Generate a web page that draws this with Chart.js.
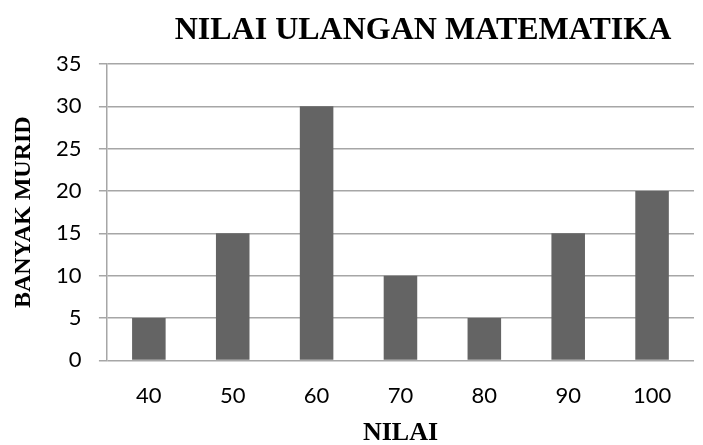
<!DOCTYPE html>
<html>
<head>
<meta charset="utf-8">
<script src="https://cdn.jsdelivr.net/npm/chart.js@4"></script>
<style>
    html, body { margin: 0; padding: 0; background: #fff; }
    #wrap { width: 703px; height: 445px; position: relative; }
</style>
</head>
<body>
<div id="wrap"><canvas id="nilaiChart"></canvas></div>
<script>
const chartTitle = 'NILAI ULANGAN MATEMATIKA';
const xTitle = 'NILAI';
const yTitle = 'BANYAK MURID';
const nilaiLabels = ['40', '50', '60', '70', '80', '90', '100'];
const banyakMurid = [5, 15, 30, 10, 5, 15, 20];
const yTicks = [0, 5, 10, 15, 20, 25, 30, 35];

const gridGray = '#a6a6a6';

// title is drawn by hand because it sits right of centre in the original
const titlePlugin = {
    id: 'manualTitle',
    afterDraw(chart) {
        const c = chart.ctx;
        c.save();
        c.font = 'bold 32px "Liberation Serif", "Times New Roman", serif';
        c.fillStyle = '#000';
        c.textAlign = 'center';
        c.textBaseline = 'alphabetic';
        c.fillText(chartTitle, 423, 39);
        c.restore();
    }
};

const ctx = document.getElementById('nilaiChart').getContext('2d');

new Chart(ctx, {
    type: 'bar',
    data: {
        labels: nilaiLabels,
        datasets: [{
            data: banyakMurid,
            backgroundColor: '#646464',
            borderWidth: 0,
            categoryPercentage: 1,
            barPercentage: 0.4
        }]
    },
    options: {
        responsive: true,
        maintainAspectRatio: false,
        animation: false,
        layout: {
            padding: { top: 64, right: 9, bottom: 0, left: 9.6 }
        },
        scales: {
            x: {
                grid: { display: false, drawTicks: false },
                border: { display: false },
                ticks: {
                    color: '#000',
                    padding: 22.8,
                    font: { family: 'Lato, "Open Sans", sans-serif', size: 22 }
                },
                title: {
                    display: true,
                    text: xTitle,
                    color: '#000',
                    padding: { top: -15, bottom: -3.6 },
                    font: { family: '"Liberation Serif", serif', size: 26, weight: 'bold' }
                }
            },
            y: {
                min: 0,
                max: 35,
                afterBuildTicks(axis) {
                    axis.ticks = yTicks.map(v => ({ value: v }));
                },
                grid: { color: gridGray, lineWidth: 1.5, tickLength: 8 },
                border: { color: gridGray, width: 1.5 },
                ticks: {
                    color: '#000',
                    padding: 17.5,
                    font: { family: 'Lato, "Open Sans", sans-serif', size: 22 }
                },
                title: {
                    display: true,
                    text: yTitle,
                    color: '#000',
                    padding: { top: 0, bottom: 0 },
                    font: { family: '"Liberation Serif", serif', size: 24, weight: 'bold' }
                }
            }
        },
        plugins: {
            legend: { display: false },
            tooltip: { enabled: false }
        }
    },
    plugins: [titlePlugin]
});
</script>
</body>
</html>
